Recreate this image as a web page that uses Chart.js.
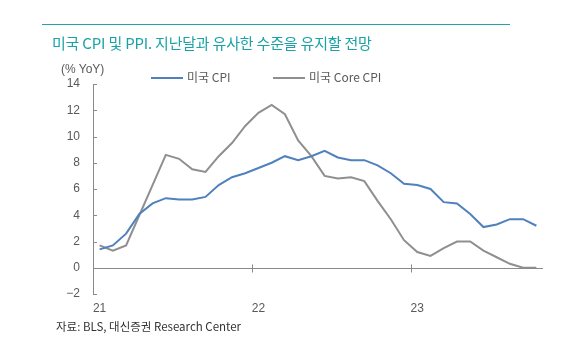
<!DOCTYPE html>
<html>
<head>
<meta charset="utf-8">
<script src="https://cdn.jsdelivr.net/npm/chart.js@4"></script>
<style>
  body { margin: 0; background: #fff; }
  #wrap { position: relative; width: 573px; height: 351px; overflow: hidden; font-family: 'Noto Sans CJK KR', 'Liberation Sans', sans-serif; }
  #chart { position: absolute; left: 0; top: 0; }
  .rule { position: absolute; left: 42px; top: 24px; width: 468px; height: 1px; background: #22a3a6; }
  .title { position: absolute; left: 52px; top: 32px; font-size: 15px; color: #1aa3a6; white-space: nowrap; letter-spacing: -0.2px; }
  .unit { position: absolute; left: 61px; top: 62px; font-family: 'Liberation Sans', Arial, sans-serif; font-size: 12px; color: #595959; }
  .legend { position: absolute; top: 68px; font-size: 12px; color: #595959; white-space: nowrap; }
  .legend span { display: inline-block; width: 32px; height: 2px; vertical-align: middle; margin-right: 4px; position: relative; top: -1px; }
  .source { position: absolute; left: 56px; top: 318px; font-size: 11.5px; color: #333; white-space: nowrap; }
</style>
</head>
<body>
<div id="wrap">
  <canvas id="chart" width="573" height="351"></canvas>
  <div class="rule"></div>
  <div class="title">미국 CPI 및 PPI. 지난달과 유사한 수준을 유지할 전망</div>
  <div class="unit">(% YoY)</div>
  <div class="legend" style="left:151px"><span style="background:#4f81bd"></span>미국 CPI</div>
  <div class="legend" style="left:273px"><span style="background:#8f8f8f"></span>미국 Core CPI</div>
  <div class="source">자료: BLS, 대신증권 Research Center</div>
</div>
<script>
const months = [
  '21.01','21.02','21.03','21.04','21.05','21.06','21.07','21.08','21.09','21.10','21.11','21.12',
  '22.01','22.02','22.03','22.04','22.05','22.06','22.07','22.08','22.09','22.10','22.11','22.12',
  '23.01','23.02','23.03','23.04','23.05','23.06','23.07','23.08','23.09','23.10'
];
const yearLabels = ['21', '22', '23'];
const yTicks = [14, 12, 10, 8, 6, 4, 2, 0, -2];

const cpi = [
  1.4, 1.7, 2.6, 4.1, 4.9, 5.3, 5.2, 5.2, 5.4, 6.3, 6.9, 7.2,
  7.6, 8.0, 8.5, 8.2, 8.5, 8.9, 8.4, 8.2, 8.2, 7.8, 7.2, 6.4,
  6.3, 6.0, 5.0, 4.9, 4.1, 3.1, 3.3, 3.7, 3.7, 3.2
];
const coreCpi = [
  1.7, 1.3, 1.7, 4.0, 6.3, 8.6, 8.3, 7.5, 7.3, 8.5, 9.5, 10.8,
  11.8, 12.4, 11.7, 9.7, 8.5, 7.0, 6.8, 6.9, 6.6, 5.1, 3.7, 2.1,
  1.2, 0.9, 1.5, 2.0, 2.0, 1.3, 0.8, 0.3, 0, 0
];

const axisColor = '#8a8a8a';

// 0선, x축 연도 눈금, y축 안쪽 눈금
const axisMarks = {
  id: 'axisMarks',
  afterDraw(chart) {
    const ctx = chart.ctx;
    const x = chart.scales.x;
    const y = chart.scales.y;
    const area = chart.chartArea;
    const zero = Math.round(y.getPixelForValue(0)) + 0.5;
    ctx.save();
    ctx.strokeStyle = axisColor;
    ctx.lineWidth = 1;
    ctx.beginPath();
    ctx.moveTo(area.left, zero);
    ctx.lineTo(area.right, zero);
    months.forEach((m, i) => {
      if (i > 0 && i % 12 === 0) {
        const px = Math.round((x.getPixelForValue(i - 1) + x.getPixelForValue(i)) / 2) + 0.5;
        ctx.moveTo(px, zero - 4);
        ctx.lineTo(px, zero + 4);
      }
    });
    yTicks.forEach(v => {
      const py = Math.round(y.getPixelForValue(v)) + 0.5;
      ctx.moveTo(area.left, py);
      ctx.lineTo(area.left + 4, py);
    });
    ctx.stroke();
    ctx.restore();
  }
};

new Chart(document.getElementById('chart'), {
  type: 'line',
  data: {
    labels: months,
    datasets: [
      { label: '미국 CPI', data: cpi, borderColor: '#4f81bd', borderWidth: 2, pointRadius: 0, tension: 0 },
      { label: '미국 Core CPI', data: coreCpi, borderColor: '#8f8f8f', borderWidth: 2, pointRadius: 0, tension: 0 }
    ]
  },
  options: {
    responsive: false,
    animation: false,
    layout: { padding: { left: 0, right: 30, top: 84, bottom: 0 } },
    plugins: { legend: { display: false }, tooltip: { enabled: false } },
    scales: {
      x: {
        offset: true,
        grid: { display: false, offset: true, drawTicks: false },
        border: { display: false },
        afterFit(scale) { scale.height = 57; },
        ticks: {
          autoSkip: false,
          maxRotation: 0,
          padding: 7,
          color: '#595959',
          font: { family: "'Liberation Sans', Arial, sans-serif", size: 12 },
          callback(value, index) {
            return index % 12 === 0 ? yearLabels[index / 12] : null;
          }
        }
      },
      y: {
        min: -2,
        max: 14,
        grid: { display: false, drawTicks: false },
        border: { display: true, color: axisColor, width: 1 },
        afterFit(scale) { scale.width = 93; },
        afterBuildTicks(scale) { scale.ticks = yTicks.map(v => ({ value: v })); },
        ticks: {
          padding: 13,
          color: '#595959',
          font: { family: "'Liberation Sans', Arial, sans-serif", size: 12 },
          callback(value) { return value < 0 ? '\u2212' + Math.abs(value) : value; }
        }
      }
    }
  },
  plugins: [axisMarks]
});
</script>
</body>
</html>
